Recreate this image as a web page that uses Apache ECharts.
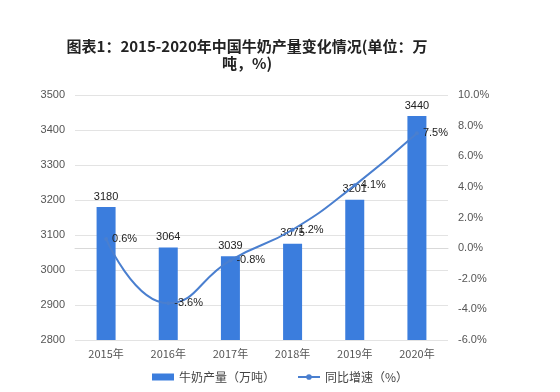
<!DOCTYPE html>
<html><head><meta charset="utf-8">
<script src="https://cdn.jsdelivr.net/npm/echarts@6/dist/echarts.min.js"></script>
<style>html,body{margin:0;padding:0;background:#fff}#c{width:560px;height:392px}</style>
</head><body><div id="c"></div>
<script>
const categories = ['2015年','2016年','2017年','2018年','2019年','2020年'];
const milkOutput = [3180, 3064, 3039, 3075, 3201, 3440];
const growthRate = [0.6, -3.6, -0.8, 1.2, 4.1, 7.5];
const titleText = '图表1：2015-2020年中国牛奶产量变化情况(单位：万\n吨，%)';
const seriesNames = ['牛奶产量（万吨）', '同比增速（%）'];

const chart = echarts.init(document.getElementById('c'));
chart.setOption({
  animation: false,
  title: {
    text: titleText, left: 242, top: 33, textAlign: 'center',
    textStyle: {fontSize: 15, fontWeight: 'bold', color: '#222', lineHeight: 17, fontFamily: 'Noto Sans CJK SC'}
  },
  grid: {left: 75, right: 112, top: 95, bottom: 52},
  legend: {
    bottom: 4, left: 'center', itemGap: 22, itemWidth: 22, itemHeight: 7,
    textStyle: {fontSize: 12, color: '#444', fontFamily: 'Noto Sans CJK SC'},
    data: [{name: seriesNames[0], icon: 'rect'}, {name: seriesNames[1]}]
  },
  xAxis: {
    type: 'category', data: categories,
    axisTick: {show: false},
    axisLine: {lineStyle: {color: '#d9d9d9'}},
    axisLabel: {fontSize: 11, color: '#555', fontFamily: 'Noto Sans CJK SC', margin: 8}
  },
  yAxis: [
    {type: 'value', min: 2800, max: 3500, interval: 100,
     axisLine: {show: false}, axisTick: {show: false},
     splitLine: {lineStyle: {color: '#e3e3e3'}},
     axisLabel: {fontSize: 11, color: '#555', margin: 10, formatter: v => String(v)}},
    {type: 'value', min: -6, max: 10, interval: 2,
     axisLine: {show: false}, axisTick: {show: false},
     splitLine: {show: false},
     axisLabel: {fontSize: 11, color: '#555', margin: 10, formatter: v => v.toFixed(1) + '%'}}
  ],
  series: [
    {name: seriesNames[0], type: 'bar', data: milkOutput, barWidth: 19,
     itemStyle: {color: '#3b7ddd'},
     label: {show: true, position: 'top', fontSize: 11, color: '#222', distance: 5}},
    {name: seriesNames[1], type: 'line', yAxisIndex: 1, data: growthRate, smooth: true,
     symbol: 'circle', symbolSize: 4, showSymbol: true,
     lineStyle: {color: '#4a7fcf', width: 2}, itemStyle: {color: '#4a7fcf'},
     label: {show: true, position: 'right', distance: 4, fontSize: 11, color: '#222', formatter: p => p.value.toFixed(1) + '%'}}
  ]
});
</script></body></html>
